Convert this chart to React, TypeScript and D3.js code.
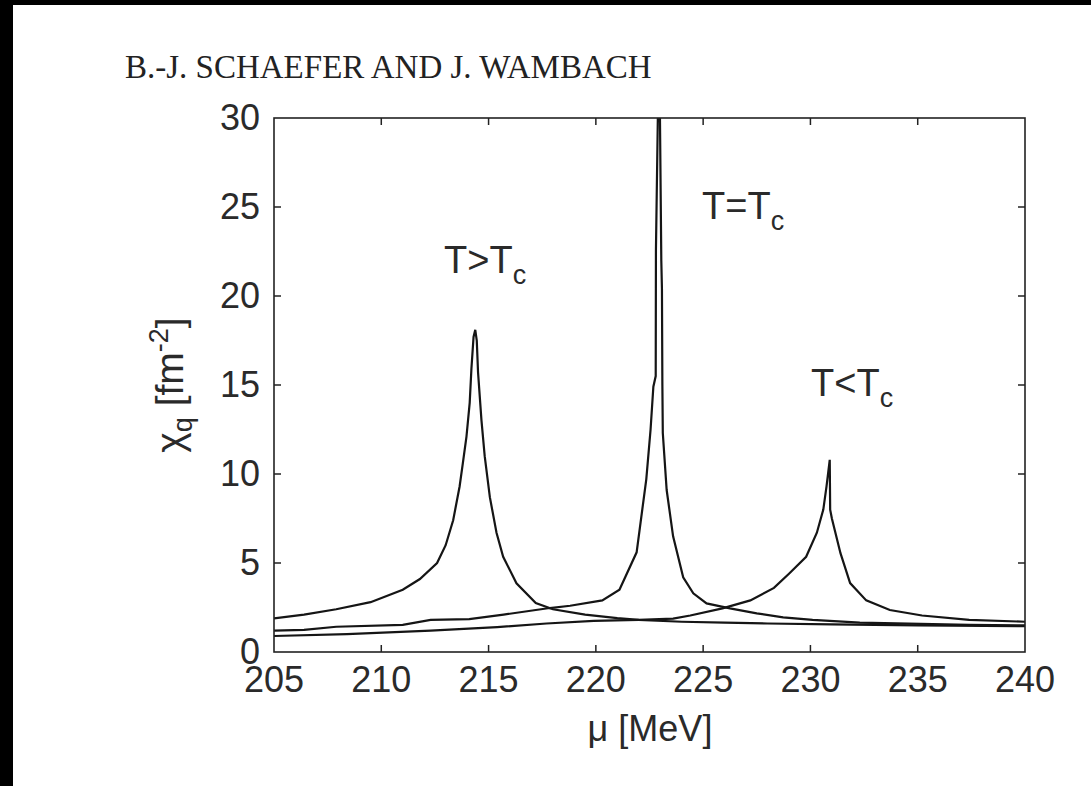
import React from "react";
import * as d3 from "d3";

const W = 1091;
const H = 786;

const xTickValues = [205, 210, 215, 220, 225, 230, 235, 240];
const yTickValues = [0, 5, 10, 15, 20, 25, 30];

// T > Tc
const muAbove = [205.0, 206.4, 207.9, 209.5, 211.0, 211.8, 212.6, 213.0, 213.35, 213.65, 213.8, 213.97, 214.12, 214.2, 214.3, 214.38, 214.45, 214.51, 214.67, 214.82, 215.06, 215.37, 215.68, 216.3, 217.2, 218.0, 219.5, 221.0, 222.0, 224.0, 226.0, 228.0, 231.0, 235.0, 240.0];
const chiAbove = [1.89, 2.1, 2.4, 2.8, 3.5, 4.1, 5.0, 6.0, 7.4, 9.3, 10.6, 12.1, 14.0, 15.9, 17.7, 18.1, 17.5, 15.7, 13.0, 11.0, 8.7, 6.7, 5.35, 3.86, 2.75, 2.4, 2.1, 1.9, 1.8, 1.7, 1.65, 1.6, 1.55, 1.5, 1.45];

// T = Tc
const muCrit = [205.0, 206.4, 207.9, 211.0, 212.3, 214.1, 215.7, 217.85, 218.8, 220.3, 221.1, 221.9, 222.35, 222.55, 222.68, 222.79, 222.8, 222.9, 222.98, 223.05, 223.08, 223.1, 223.12, 223.3, 223.6, 224.07, 224.54, 225.16, 226.25, 227.5, 228.73, 230.1, 232.3, 237.4, 240.0];
const chiCrit = [1.2, 1.24, 1.42, 1.52, 1.8, 1.85, 2.1, 2.47, 2.6, 2.9, 3.5, 5.6, 9.7, 12.5, 14.9, 15.5, 22.6, 31, 31, 22, 20.4, 15.0, 12.3, 9.1, 6.5, 4.2, 3.3, 2.73, 2.45, 2.17, 1.95, 1.8, 1.65, 1.52, 1.5];

// T < Tc
const muBelow = [205.0, 208.4, 212.3, 215.4, 217.7, 219.9, 222.0, 223.6, 224.4, 225.9, 227.2, 228.3, 229.0, 229.8, 230.3, 230.6, 230.75, 230.9, 230.92, 231.0, 231.4, 231.85, 232.6, 233.7, 235.2, 237.4, 240.0];
const chiBelow = [0.9, 1.0, 1.2, 1.4, 1.6, 1.75, 1.8, 1.88, 2.05, 2.45, 2.9, 3.6, 4.4, 5.35, 6.7, 8.0, 9.3, 10.8, 8.0, 7.5, 5.55, 3.87, 2.9, 2.36, 2.05, 1.8, 1.7];

const series = [
  { name: "above", mu: muAbove, chi: chiAbove },
  { name: "crit", mu: muCrit, chi: chiCrit },
  { name: "below", mu: muBelow, chi: chiBelow },
];

const plotLeft = 274;
const plotRight = 1025;
const plotTop = 118;
const plotBottom = 652;

const TICK_FONT = "'Liberation Sans', Arial, Helvetica, sans-serif";
const TEXT_COLOR = "#2a2a2a";

export default function App() {
  const x = d3.scaleLinear().domain([205, 240]).range([plotLeft, plotRight]);
  const y = d3.scaleLinear().domain([0, 30]).range([plotBottom, plotTop]);
  const line = d3
    .line<[number, number]>()
    .x((d) => x(d[0]))
    .y((d) => y(d[1]))
    .curve(d3.curveLinear);

  const tickLen = 7;

  return (
    <svg
      width={W}
      height={H}
      style={{ position: "absolute", left: 0, top: 0, display: "block" }}
    >
      <rect x={0} y={0} width={W} height={H} fill="#fff" />
      <rect x={0} y={0} width={13} height={H} fill="#000" />
      <rect x={0} y={0} width={W} height={5} fill="#000" />

      <text
        x={125}
        y={78}
        fontFamily="'Liberation Serif', 'Times New Roman', serif"
        fontSize={33}
        fill="#222"
      >
        B.-J. SCHAEFER AND J. WAMBACH
      </text>

      <defs>
        <clipPath id="plotclip">
          <rect x={plotLeft} y={plotTop} width={plotRight - plotLeft} height={plotBottom - plotTop} />
        </clipPath>
      </defs>

      <g clipPath="url(#plotclip)">
        {series.map((s) => (
          <path
            key={s.name}
            d={line(s.mu.map((m, i) => [m, s.chi[i]] as [number, number])) || ""}
            fill="none"
            stroke="#151515"
            strokeWidth={2.2}
            strokeLinejoin="miter"
          />
        ))}
      </g>

      {/* frame */}
      <rect
        x={plotLeft}
        y={plotTop}
        width={plotRight - plotLeft}
        height={plotBottom - plotTop}
        fill="none"
        stroke="#222"
        strokeWidth={1.6}
      />

      {/* ticks */}
      {xTickValues.slice(1, -1).map((t) => (
        <g key={"xt" + t}>
          <line x1={x(t)} x2={x(t)} y1={plotBottom} y2={plotBottom - tickLen} stroke="#222" strokeWidth={1.5} />
          <line x1={x(t)} x2={x(t)} y1={plotTop} y2={plotTop + tickLen} stroke="#222" strokeWidth={1.5} />
        </g>
      ))}
      {yTickValues.slice(1, -1).map((t) => (
        <g key={"yt" + t}>
          <line x1={plotLeft} x2={plotLeft + tickLen} y1={y(t)} y2={y(t)} stroke="#222" strokeWidth={1.5} />
          <line x1={plotRight} x2={plotRight - tickLen} y1={y(t)} y2={y(t)} stroke="#222" strokeWidth={1.5} />
        </g>
      ))}

      {/* tick labels */}
      {xTickValues.map((t) => (
        <text
          key={"xl" + t}
          x={x(t)}
          y={692}
          textAnchor="middle"
          fontFamily={TICK_FONT}
          fontSize={36}
          fill={TEXT_COLOR}
        >
          {t}
        </text>
      ))}
      {yTickValues.map((t) => (
        <text
          key={"yl" + t}
          x={260}
          y={y(t) + 12}
          textAnchor="end"
          fontFamily={TICK_FONT}
          fontSize={36}
          fill={TEXT_COLOR}
        >
          {t}
        </text>
      ))}

      {/* axis labels */}
      <text
        x={650}
        y={741}
        textAnchor="middle"
        fontFamily={TICK_FONT}
        fontSize={36}
        fill={TEXT_COLOR}
      >
        μ [MeV]
      </text>
      <text
        transform={`translate(183, ${(plotTop + plotBottom) / 2}) rotate(-90)`}
        textAnchor="middle"
        fontFamily={TICK_FONT}
        fontSize={39}
        fill={TEXT_COLOR}
      >
        χ<tspan fontSize={27} dy={9}>q</tspan>
        <tspan dy={-9}> [fm</tspan>
        <tspan fontSize={27} dy={-15}>-2</tspan>
        <tspan dy={15}>]</tspan>
      </text>

      {/* annotations */}
      <text x={444} y={273} fontFamily={TICK_FONT} fontSize={38} fill={TEXT_COLOR}>
        T&gt;T<tspan fontSize={27} dy={11}>c</tspan>
      </text>
      <text x={702} y={219} fontFamily={TICK_FONT} fontSize={38} fill={TEXT_COLOR}>
        T=T<tspan fontSize={27} dy={11}>c</tspan>
      </text>
      <text x={811} y={396} fontFamily={TICK_FONT} fontSize={38} fill={TEXT_COLOR}>
        T&lt;T<tspan fontSize={27} dy={11}>c</tspan>
      </text>
    </svg>
  );
}
